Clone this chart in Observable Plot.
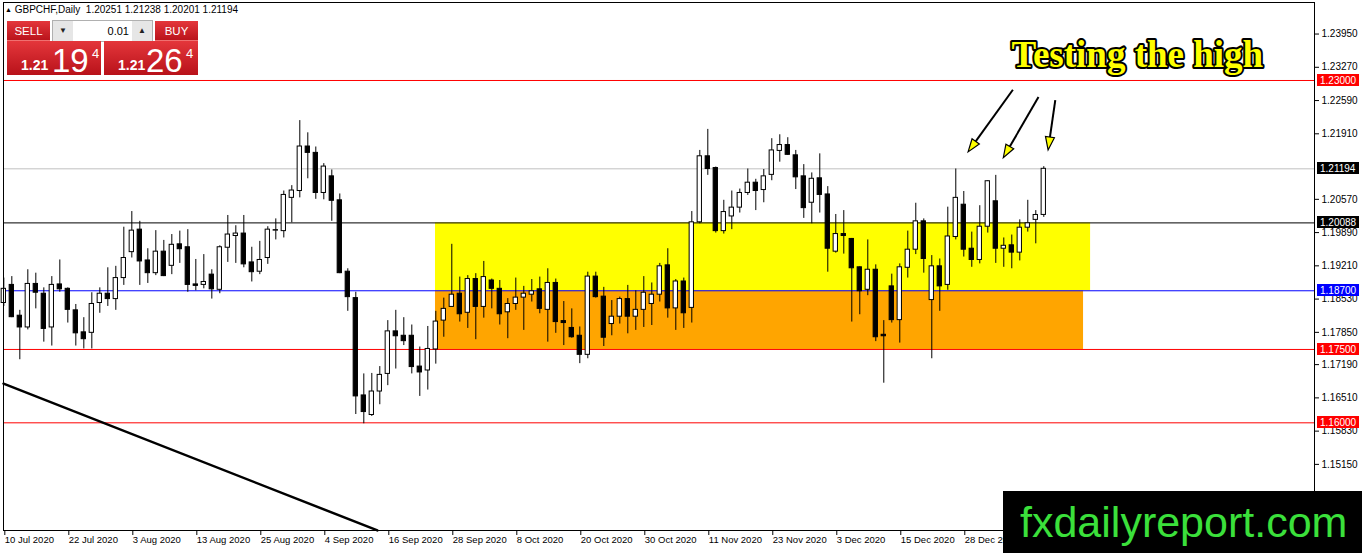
<!DOCTYPE html>
<html><head><meta charset="utf-8">
<script src="https://cdn.jsdelivr.net/npm/d3@7"></script>
<script src="https://cdn.jsdelivr.net/npm/@observablehq/plot@0.6"></script>
<style>
body{margin:0;background:#fff;}
#wrap{position:relative;width:1362px;height:553px;overflow:hidden;font-family:"Liberation Sans",Arial,sans-serif;}
#chart{position:absolute;left:0;top:0;}
.ov{position:absolute;}
#hdr{left:5px;top:4px;font-size:10px;white-space:pre;color:#000;}
#hdr .tri{font-size:7px;position:relative;top:-1px;}
.red{background:linear-gradient(#e4363b,#b8121a);color:#fff;}
.btn{height:20px;line-height:20px;text-align:center;font-size:11.5px;box-shadow:inset 0 -1px 0 #f07070;}
#sell{left:7px;top:21px;width:43px;}
#buy{left:155px;top:21px;width:43px;}
#lot{left:52px;top:20px;width:99px;height:20px;border:1px solid #b0b0b0;background:#fff;}
#lot .b{position:absolute;top:0;width:20px;height:20px;background:#e6e6e6;font-size:8px;line-height:20px;text-align:center;color:#222;}
#lot .v{position:absolute;left:22px;width:54px;top:0;height:20px;line-height:20px;text-align:right;font-size:11px;color:#000;}
.big{top:41px;width:94px;height:34px;}
#bl{left:7px;}#br{left:104px;}
.big span{position:absolute;color:#fff;white-space:nowrap;}
.s1{font-size:14px;font-weight:bold;line-height:14px;top:17px;}
.s2{font-size:33px;line-height:33px;top:3px;}
.s3{font-size:13px;line-height:13px;top:6px;}
#wm{left:1003px;top:491px;width:359px;height:62px;background:#000;color:#3be03b;font-size:43px;line-height:62px;padding-left:17px;box-sizing:border-box;white-space:nowrap;}
</style></head>
<body>
<div id="wrap">
<div id="chart"></div>
<div id="hdr" class="ov"><span class="tri">▲</span> GBPCHF,Daily  1.20251 1.21238 1.20201 1.21194</div>
<div id="sell" class="ov red btn">SELL</div>
<div id="lot" class="ov"><div class="b" style="left:0">▼</div><div class="v">0.01</div><div class="b" style="right:0">▲</div></div>
<div id="buy" class="ov red btn">BUY</div>
<div id="bl" class="ov red big"><span class="s1" style="left:14px">1.21</span><span class="s2" style="left:45px">19</span><span class="s3" style="left:85px">4</span></div>
<div id="br" class="ov red big"><span class="s1" style="left:14px">1.21</span><span class="s2" style="left:42px">26</span><span class="s3" style="left:82px">4</span></div>
<div id="wm" class="ov">fxdailyreport.com</div>
</div>
<script>
// Daily OHLC, GBPCHF, 10 Jul 2020 onward (bar index 0..130)
const opens = [1.1845,1.1882,1.1819,1.1795,1.1884,1.1864,1.1795,1.1883,1.1874,1.1830,
1.1785,1.1784,1.1845,1.1864,1.1853,1.1896,1.1949,1.1995,1.1932,1.1906,
1.1950,1.1921,1.1965,1.1959,1.1883,1.1882,1.1903,1.1872,1.1958,1.1982,
1.1987,1.1928,1.1909,1.1937,1.1993,1.1992,1.2060,1.2074,1.2165,1.2152,
1.2070,1.2104,1.2055,1.1909,1.1855,1.1656,1.1616,1.1664,1.1700,1.1787,
1.1778,1.1778,1.1715,1.1707,1.1750,1.1809,1.1837,1.1864,1.1825,1.1894,
1.1837,1.1891,1.1874,1.1826,1.1843,1.1856,1.1862,1.1873,1.1831,1.1886,
1.1808,1.1794,1.1778,1.1739,1.1899,1.1858,1.1802,1.1817,1.1853,1.1817,
1.1831,1.1843,1.1862,1.1922,1.1834,1.1889,1.1835,1.2010,1.2145,1.2121,
1.1992,1.2022,1.2040,1.2070,1.2091,1.2076,1.2107,1.2156,1.2168,1.2147,
1.2104,1.2050,1.2100,1.2067,1.1950,1.1986,1.1976,1.1918,1.1872,1.1913,
1.1780,1.1879,1.1810,1.1917,1.1954,1.2012,1.1851,1.1920,1.1882,1.1980,
1.2046,1.1956,1.1933,1.2001,1.2053,1.1956,1.1963,1.1948,1.1999,1.2015,
1.20251];
const highs = [1.1896,1.1899,1.1830,1.1913,1.1906,1.1876,1.1899,1.1933,1.1876,1.1842,
1.1815,1.1866,1.1876,1.1917,1.1920,1.2000,1.2032,1.2012,1.1956,1.1993,
1.1973,1.1985,1.1992,1.1995,1.1934,1.1944,1.1913,1.1962,1.2024,1.2003,
1.2024,1.1959,1.1971,1.2001,1.2017,1.2074,1.2085,1.2218,1.2193,1.2164,
1.2130,1.2117,1.2068,1.1915,1.1867,1.1700,1.1701,1.1715,1.1809,1.1830,
1.1815,1.1800,1.1755,1.1797,1.1828,1.1855,1.1965,1.1898,1.1901,1.1905,
1.1930,1.1894,1.1891,1.1854,1.1896,1.1879,1.1893,1.1898,1.1915,1.1894,
1.1848,1.1833,1.1796,1.1908,1.1908,1.1877,1.1850,1.1857,1.1881,1.1870,
1.1899,1.1886,1.1926,1.1956,1.1893,1.1896,1.2032,1.2157,1.2200,1.2123,
1.2055,1.2074,1.2078,1.2119,1.2098,1.2118,1.2181,1.2189,1.2183,1.2157,
1.2128,1.2111,1.2150,1.2083,1.2026,1.2034,1.1977,1.1919,1.1974,1.1923,
1.1809,1.1904,1.1925,1.1992,1.2049,1.2017,1.1942,1.1935,1.2041,1.2119,
1.2073,1.1990,1.2044,1.2095,1.2106,1.1978,1.1984,1.2015,1.2055,1.2034,
1.21238];
const lows = [1.1838,1.1815,1.1729,1.1790,1.1833,1.1765,1.1757,1.1867,1.1804,1.1757,
1.1751,1.1751,1.1824,1.1838,1.1830,1.1881,1.1937,1.1881,1.1885,1.1901,
1.1899,1.1903,1.1926,1.1867,1.1870,1.1874,1.1853,1.1864,1.1928,1.1926,
1.1917,1.1888,1.1903,1.1924,1.1974,1.1978,1.2009,1.2060,1.2099,1.2057,
1.2056,1.2012,1.1905,1.1828,1.1617,1.1598,1.1613,1.1637,1.1676,1.1710,
1.1758,1.1700,1.1654,1.1667,1.1720,1.1775,1.1836,1.1806,1.1793,1.1770,
1.1814,1.1833,1.1800,1.1772,1.1830,1.1789,1.1847,1.1823,1.1765,1.1783,
1.1758,1.1773,1.1721,1.1731,1.1855,1.1756,1.1778,1.1802,1.1782,1.1789,
1.1795,1.1799,1.1847,1.1814,1.1789,1.1793,1.1804,1.2007,1.2106,1.1988,
1.1986,1.1995,1.2029,1.2065,1.2034,1.2050,1.2095,1.2133,1.2147,1.2077,
1.2018,1.2007,1.2029,1.1908,1.1947,1.1945,1.1806,1.1821,1.1860,1.1766,
1.1681,1.1804,1.1763,1.1896,1.1944,1.1906,1.1731,1.1828,1.1871,1.1974,
1.1939,1.1918,1.1925,1.1988,1.1926,1.1918,1.1915,1.1931,1.1990,1.1966,
1.20201];
const closes = [1.1874,1.1816,1.1795,1.1884,1.1866,1.1792,1.1882,1.1873,1.1831,1.1783,
1.1771,1.1843,1.1864,1.1853,1.1896,1.1937,1.1993,1.1930,1.1906,1.1950,
1.1900,1.1964,1.1955,1.1882,1.1880,1.1888,1.1873,1.1959,1.1985,1.1987,
1.1924,1.1908,1.1933,1.1995,1.1994,1.2066,1.2075,1.2165,1.2152,1.2070,
1.2124,1.2054,1.1906,1.1857,1.1654,1.1622,1.1664,1.1698,1.1787,1.1777,
1.1767,1.1714,1.1703,1.1751,1.1807,1.1833,1.1862,1.1822,1.1894,1.1837,
1.1898,1.1874,1.1822,1.1843,1.1856,1.1864,1.1869,1.1833,1.1886,1.1806,
1.1804,1.1775,1.1739,1.1899,1.1857,1.1774,1.1817,1.1853,1.1817,1.1831,
1.1866,1.1862,1.1920,1.1834,1.1889,1.1824,1.2010,1.2145,1.2119,1.1992,
1.2031,1.2040,1.2070,1.2091,1.2074,1.2104,1.2157,1.2168,1.2148,1.2102,
1.2039,1.2099,1.2066,1.1956,1.1986,1.1982,1.1916,1.1869,1.1913,1.1775,
1.1777,1.1810,1.1918,1.1954,1.2012,1.1935,1.1920,1.1879,1.1981,1.2060,
1.1954,1.1933,1.2001,1.2094,1.1956,1.1962,1.1948,1.1999,1.2008,1.2025,
1.21194];

const xTickIndex = [0,8,16,24,32,40,48,56,64,72,80,88,96,104,112,120];
const xTickLabels = ["10 Jul 2020","22 Jul 2020","3 Aug 2020","13 Aug 2020","25 Aug 2020","4 Sep 2020","16 Sep 2020","28 Sep 2020","8 Oct 2020","20 Oct 2020","30 Oct 2020","11 Nov 2020","23 Nov 2020","3 Dec 2020","15 Dec 2020","28 Dec 2020"];
const yTicks = [1.2395,1.2327,1.2259,1.2191,1.2057,1.1989,1.1921,1.1853,1.1785,1.1719,1.1651,1.1583,1.1515];

const levelPrices = [1.23000, 1.21194, 1.20088, 1.18700, 1.17500, 1.16000];
const levelLine   = ["#ff0000", "#c0c0c0", "#000000", "#0000ff", "#ff0000", "#ff0000"];
const levelBox    = ["#ff0000", "#000000", "#000000", "#0000ff", "#ff0000", "#ff0000"];

const zoneStart = [53.96, 53.96];
const zoneEnd   = [135.85, 134.97];
const zoneLow   = [1.18700, 1.17500];
const zoneHigh  = [1.20088, 1.18700];
const zoneFill  = ["#ffff00", "#ffa500"];

const trendIdx   = [-0.04, 46.7];
const trendPrice = [1.1680, 1.1380];

const arrowFrom = [[126.2, 1.2280], [129.4, 1.2265], [131.5, 1.2259]];
const arrowTo   = [[120.6, 1.2153], [125.0, 1.2141], [130.6, 1.2157]];

const noteText = "Testing the high";
const noteAt = [141.7, 1.2351];

const bars = opens.map((o, i) => ({i, open: o, high: highs[i], low: lows[i], close: closes[i]}));
const zones = zoneStart.map((s, k) => ({start: s, end: zoneEnd[k], low: zoneLow[k], high: zoneHigh[k], fill: zoneFill[k]}));
const levels = levelPrices.map((p, k) => ({price: p, line: levelLine[k], box: levelBox[k]}));
const trend = trendIdx.map((t, k) => ({i: t, p: trendPrice[k]}));

function levelLabels(index, scales, values, dims) {
  const g = d3.create("svg:g");
  const x0 = dims.width - dims.marginRight + 3;
  for (const L of levels) {
    const y = Math.round(scales.y(L.price));
    g.append("rect").attr("x", x0).attr("y", y - 6).attr("width", 42).attr("height", 12).attr("fill", L.box);
    g.append("text").attr("x", x0 + 3).attr("y", y).attr("dy", "0.35em")
      .attr("text-anchor", "start")
      .attr("fill", "#fff").attr("font-size", 10).attr("font-family", "Liberation Sans, Arial, sans-serif")
      .text(L.price.toFixed(5));
  }
  return g.node();
}

function arrowMarks(index, scales) {
  const g = d3.create("svg:g");
  arrowFrom.forEach((f, k) => {
    const t = arrowTo[k];
    const x1 = scales.x(f[0]), y1 = scales.y(f[1]), x2 = scales.x(t[0]), y2 = scales.y(t[1]);
    const ang = Math.atan2(y2 - y1, x2 - x1);
    const len = 13, w = 4.5;
    const bx = x2 - len * Math.cos(ang), by = y2 - len * Math.sin(ang);
    const px = -Math.sin(ang), py = Math.cos(ang);
    g.append("line").attr("x1", x1).attr("y1", y1).attr("x2", bx).attr("y2", by)
      .attr("stroke", "#000").attr("stroke-width", 2);
    g.append("polygon")
      .attr("points", [[x2, y2], [bx + w * px, by + w * py], [bx - w * px, by - w * py]].map(p => p.join(",")).join(" "))
      .attr("fill", "#ffff00").attr("stroke", "#000").attr("stroke-width", 1.2).attr("stroke-linejoin", "miter");
  });
  return g.node();
}

const chart = Plot.plot({
  width: 1362, height: 553,
  marginLeft: 3, marginRight: 48, marginTop: 2, marginBottom: 23,
  x: {type: "linear", domain: [-0.04, 163.84], axis: null},
  y: {domain: [1.13798, 1.24595], axis: null},
  color: {type: "identity"},
  style: {background: "#fff", fontFamily: "Liberation Sans, Arial, sans-serif", fontSize: "10px", color: "#000"},
  marks: [
    Plot.rect(zones, {x1: "start", x2: "end", y1: "low", y2: "high", fill: "fill"}),
    Plot.ruleY(levels, {y: "price", stroke: "line", strokeWidth: 1}),
    Plot.line(trend, {x: "i", y: "p", stroke: "#000", strokeWidth: 2.5}),
    Plot.ruleX(bars, {x: "i", y1: "low", y2: "high", stroke: "#000", strokeWidth: 1}),
    Plot.rect(bars, {x1: d => d.i - 0.27, x2: d => d.i + 0.27, y1: "open", y2: "close",
      fill: d => d.close >= d.open ? "#ffffff" : "#000000", stroke: "#000", strokeWidth: 1}),
    Plot.frame({stroke: "#000"}),
    Plot.axisY(yTicks, {anchor: "right", tickSize: 4, tickPadding: 3, label: null,
      tickFormat: d => d.toFixed(5), fontSize: 10}),
    Plot.axisX(xTickIndex, {anchor: "bottom", tickSize: 5, tickPadding: 1, label: null,
      tickFormat: d => xTickLabels[xTickIndex.indexOf(d)], textAnchor: "start", dx: 1, fontSize: 9.5}),
    levelLabels,
    arrowMarks,
    Plot.text([{label: noteText, i: noteAt[0], p: noteAt[1]}], {x: "i", y: "p", text: "label",
      fill: "#ffff00", stroke: "#000", strokeWidth: 4, fontSize: 37, fontWeight: "bold",
      fontFamily: "Liberation Serif, Times New Roman, serif", textAnchor: "middle"})
  ]
});
document.getElementById("chart").appendChild(chart);
</script>
</body></html>
